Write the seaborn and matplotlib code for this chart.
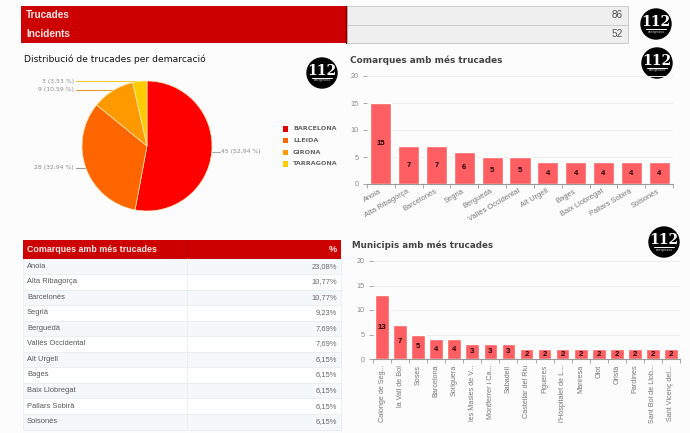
#!/usr/bin/env python3
"""Dashboard of 112 calls: summary, pie by province, top comarques and municipis."""
import matplotlib
matplotlib.use("Agg")
import matplotlib.pyplot as plt
from matplotlib.patches import Circle, Rectangle
import pandas as pd
import seaborn as sns

W, H = 690, 433
BG = "#fcfcfc"
RED = "#cc0000"
GREY_TXT = "#8a8a8a"

summary_labels = ["Trucades", "Incidents"]
summary_values = [86, 52]

demarcacions = ["BARCELONA", "LLEIDA", "GIRONA", "TARRAGONA"]
demarcacio_values = [45, 28, 9, 3]
demarcacio_labels = ["45 (52,94 %)", "28 (32,94 %)", "9 (10,59 %)", "3 (3,53 %)"]
pie_colors = ["#ff0000", "#ff6600", "#ff9900", "#ffcc00"]

comarques = ["Anoia", "Alta Ribagorça", "Barcelonès", "Segrià", "Berguedà", "Vallès Occidental",
             "Alt Urgell", "Bages", "Baix Llobregat", "Pallars Sobirà", "Solsonès"]
comarca_values = [15, 7, 7, 6, 5, 5, 4, 4, 4, 4, 4]
comarca_pct = ["23,08%", "10,77%", "10,77%", "9,23%", "7,69%", "7,69%",
               "6,15%", "6,15%", "6,15%", "6,15%", "6,15%"]

municipis = ["Calonge de Seg...", "la Vall de Boí", "Soses", "Barcelona", "Soriguera",
             "les Masies de V...", "Montferrer i Ca...", "Sabadell", "Castellar del Riu",
             "Figueres", "l'Hospitalet de L...", "Manresa", "Olot", "Oristà", "Pardines",
             "Sant Boi de Llob...", "Sant Vicenç del..."]
municipi_values = [13, 7, 5, 4, 4, 3, 3, 3, 2, 2, 2, 2, 2, 2, 2, 2, 2]

sns.set_theme(style="white")
plt.rcParams["font.family"] = ["Liberation Sans", "DejaVu Sans"]


def px_axes(fig, left, top, right, bottom):
    return fig.add_axes([left / W, 1 - bottom / H, (right - left) / W, (bottom - top) / H])


def draw_logo(ax, x, y, r=15):
    ax.add_patch(Circle((x, y), r, color="black", zorder=5))
    ax.text(x, y - 2, "112", color="white", fontsize=10, fontweight="bold", family="DejaVu Serif",
            ha="center", va="center", zorder=6)
    ax.plot([x - 10, x + 10], [y + 5, y + 5], color="white", lw=0.7, zorder=6)
    ax.text(x, y + 7.5, "emergències", color="#cccccc", fontsize=2.2, ha="center", va="center", zorder=6)


def draw_bars(fig, box, names, values, width, rotation):
    ax = px_axes(fig, *box)
    df = pd.DataFrame({"name": names, "value": values})
    sns.barplot(data=df, x="name", y="value", color="#ff5f62", saturation=1, width=width, ax=ax, zorder=2)
    ax.set_facecolor("none")
    ax.set_xlim(-0.5, len(names) - 0.5)
    ax.set_ylim(0, 20)
    ax.set_yticks([0, 5, 10, 15, 20])
    ax.set_xlabel("")
    ax.set_ylabel("")
    ax.grid(axis="y", color="#eeeeee", lw=0.7)
    ax.set_axisbelow(True)
    sns.despine(ax=ax, left=True)
    ax.spines["bottom"].set_color("#999999")
    ax.spines["bottom"].set_linewidth(0.8)
    ax.tick_params(axis="y", left=True, length=3, width=0.6, color="#999999", labelsize=5.2,
                   labelcolor=GREY_TXT, pad=3)
    ax.set_xticks(range(len(names)))
    if rotation == 90:
        ax.set_xticklabels(names, rotation=90, ha="center", va="top")
        ax.tick_params(axis="x", bottom=False, length=0, labelsize=5.2, labelcolor="#777777", pad=4)
    else:
        ax.set_xticklabels(names, rotation=rotation, ha="right", va="center", rotation_mode="anchor")
        ax.tick_params(axis="x", bottom=False, length=0, labelsize=5.4, labelcolor="#777777", pad=5)
    # ticks sit on the slot boundaries, not under the bars
    ax.set_xticks([i - 0.5 for i in range(len(names) + 1)], minor=True)
    ax.tick_params(axis="x", which="minor", bottom=True, length=3, width=0.6, color="#999999")
    ax.bar_label(ax.containers[0], label_type="center", fontsize=5.6, fontweight="bold", color="#220000")
    return ax


fig = plt.figure(figsize=(W / 100, H / 100), dpi=100, facecolor=BG)

# overlay in pixel coordinates for the table-like parts
bg = fig.add_axes([0, 0, 1, 1], zorder=0)
bg.set_xlim(0, W)
bg.set_ylim(H, 0)
bg.axis("off")

# summary strip
for i, (label, value) in enumerate(zip(summary_labels, summary_values)):
    top = 6 + i * 18.5
    bg.add_patch(Rectangle((21, top), 325, 18.5, color=RED, lw=0))
    bg.add_patch(Rectangle((347, top), 281, 18.5, facecolor="#efefef", edgecolor="#cccccc", lw=0.7))
    bg.text(26, top + 9.5, label, color="#fbe8e8", fontsize=7.2, fontweight="bold", va="center")
    bg.text(623, top + 9.5, str(value), color="#555555", fontsize=7.2, ha="right", va="center")
bg.plot([346, 346], [6, 43], color="#7a0000", lw=1)

# titles
bg.text(24, 59, "Distribució de trucades per demarcació", family="DejaVu Sans", fontsize=6.6,
        color="#111111", va="center")
bg.text(350, 60.5, "Comarques amb més trucades", family="DejaVu Sans", fontsize=6.4, fontweight="bold",
        color="#444444", va="center")
bg.text(352, 245.5, "Municipis amb més trucades", family="DejaVu Sans", fontsize=6.3, fontweight="bold",
        color="#444444", va="center")

# comarques table
bg.add_patch(Rectangle((23, 240), 318, 18.5, color=RED, lw=0))
bg.plot([187, 187], [240, 258], color="#b00000", lw=0.6)
bg.text(27, 249.5, "Comarques amb més trucades", color="#fbe8e8", fontsize=6.4, fontweight="bold", va="center")
bg.text(337, 249.5, "%", color="#fbe8e8", fontsize=6.6, fontweight="bold", ha="right", va="center")
for i, (name, pct) in enumerate(zip(comarques, comarca_pct)):
    top = 258.5 + i * 15.55
    bg.add_patch(Rectangle((23, top), 318, 15.55, facecolor="#f5f8fa" if i % 2 == 0 else "#ffffff",
                           edgecolor="#e6ecef", lw=0.5))
    bg.text(27, top + 7.6, name, color="#555555", fontsize=5.4, va="center")
    bg.text(337, top + 7.6, pct, color="#666666", fontsize=5.4, ha="right", va="center")
bg.plot([187, 187], [258, 258.5 + 11 * 15.55], color="#e6ecef", lw=0.5)

# logos
for x, y in [(656, 24), (657, 63), (322, 73), (664, 242)]:
    draw_logo(bg, x, y)

# pie
pie_ax = px_axes(fig, 82, 81, 212, 211)
pie_ax.pie(demarcacio_values, colors=pie_colors, startangle=90, counterclock=False, radius=1,
           wedgeprops={"edgecolor": "#ffe9b0", "linewidth": 0.5})
pie_ax.set_xlim(-1, 1)
pie_ax.set_ylim(-1, 1)

# pie callouts
callouts = [((212, 152), (220, 152), (221, 152), "left"),
            ((86, 168), (76, 168), (74, 168), "right"),
            ((115, 90), (76, 90), (74, 90), "right"),
            ((142, 81), (76, 81), (74, 81), "right")]
for (start, end, pos, ha), text, color in zip(callouts, demarcacio_labels, ["#aaaaaa", "#999999", "#e0a030", "#f0c830"]):
    bg.plot([start[0], end[0]], [start[1], end[1]], color=color, lw=0.8)
    bg.text(pos[0], pos[1], text, color=GREY_TXT, fontsize=4.4, family="DejaVu Sans", ha=ha, va="center")

# pie legend
for i, (name, color) in enumerate(zip(demarcacions, pie_colors)):
    y = 129 + i * 11.6
    bg.add_patch(Rectangle((283, y - 2.7), 5.4, 5.4, color=color if i else "#dd0000", lw=0))
    bg.text(293, y, name, color="#666666", fontsize=4.6, family="DejaVu Sans", fontweight="bold", va="center")

draw_bars(fig, (367, 76, 673, 184), comarques, comarca_values, 0.76, 30)
draw_bars(fig, (373, 261, 680, 359), municipis, municipi_values, 0.76, 90)

fig.savefig("out.png", dpi=100, facecolor=BG)
